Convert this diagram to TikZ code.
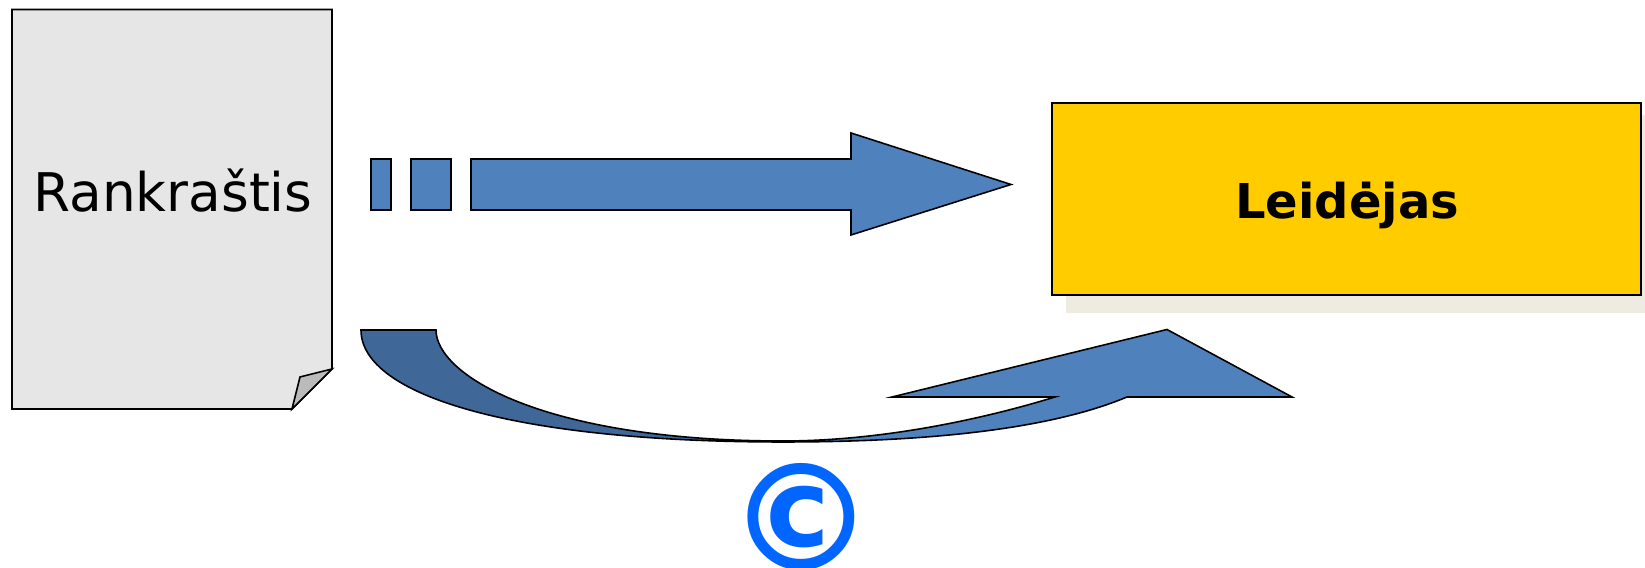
\documentclass[tikz,border=0pt]{standalone}
\usepackage{fontspec}
\setmainfont{DejaVu Sans}
\usepackage{xcolor}
\usetikzlibrary{positioning}
\definecolor{pagegray}{HTML}{E6E6E6}
\definecolor{foldgray}{HTML}{BBBBBB}
\definecolor{arrowblue}{HTML}{4F81BD}
\definecolor{darkblue}{HTML}{3F6797}
\definecolor{boxyellow}{HTML}{FFCC00}
\definecolor{shadowbeige}{HTML}{EEECE1}
\definecolor{signblue}{HTML}{0066FF}
\tikzset{
	outline/.style={draw=black, line width=0.45pt, line join=miter},
	block/.style={outline, inner sep=0pt},
	dashblock/.style={block, fill=arrowblue, minimum height=0.51cm},
	pagetext/.style={font=\fontsize{15.15}{18}\selectfont},
	boxtext/.style={font=\fontsize{13.65}{16}\selectfont\bfseries},
	signtext/.style={font=\fontsize{42}{46}\selectfont\bfseries, text=signblue}
}

\begin{document}
\begin{tikzpicture}[x=0.01cm, y=-0.01cm]
		\useasboundingbox (0,0) rectangle (1645,568);
		
		% Manuscript page
		\draw[outline, fill=pagegray] (12,9.5) -- (332,9.5) -- (332,369) -- (292,409) -- (12,409) -- cycle;
		\draw[outline, fill=foldgray] (292,409) -- (300,377) -- (332,369) -- cycle;
		\node[pagetext] (manuscript) at (173,191) {Rankraštis};
		
		% Publisher
		\node[minimum width=5.8cm, minimum height=1.98cm, fill=shadowbeige] (publishershadow) at (1356,214) {};
		\node[block, fill=boxyellow, minimum width=5.89cm, minimum height=1.92cm] (publisher) at (1346.5,199) {};
		\node[boxtext] (publishername) at (1347,205) {Leidėjas};
		
		% Straight arrow
		\node[dashblock, minimum width=0.205cm] (dashone) at (381,184.5) {};
		\node[dashblock, minimum width=0.40cm] (dashtwo) at (431,184.5) {};
		\draw[outline, fill=arrowblue] (471,159) -- (851,159) -- (851,133) -- (1011,184.5) -- (851,235) -- (851,210) -- (471,210) -- cycle;
		
		% Curved arrow
		\draw[outline, fill=arrowblue] (783,441) .. controls (880,441) and (980,420) .. (1055,397)
			-- (892,397) -- (1167,329.5) -- (1292,397) -- (1127,397)
			.. controls (1065,423) and (960,442) .. (783,442) -- cycle;
		\draw[outline, fill=darkblue] (361,330) -- (436,330)
			.. controls (436,375) and (543,441) .. (783,441) -- (783,442)
			.. controls (513,442) and (361,395) .. (361,330) -- cycle;
		
		% Copyright sign
		\node[signtext] (copyright) at (801,517) {©};
	\end{tikzpicture}
\end{document}
